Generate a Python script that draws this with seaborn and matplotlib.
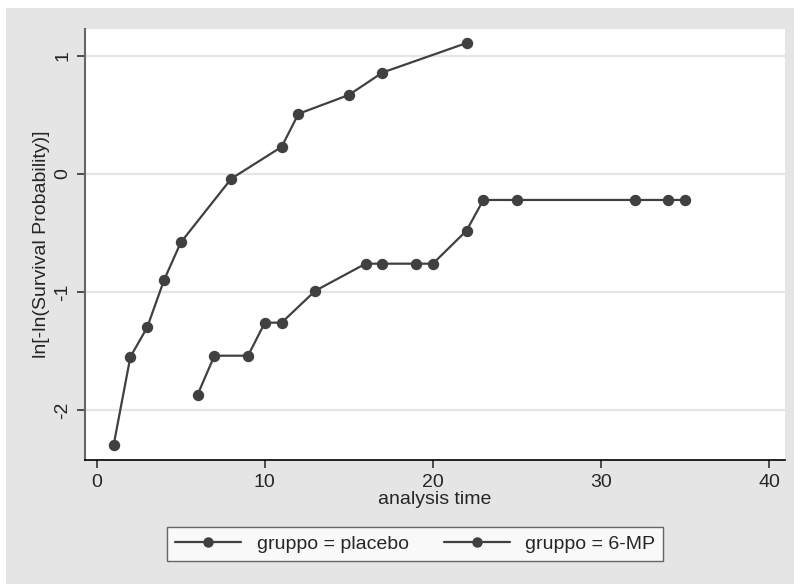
import pandas as pd
import matplotlib.pyplot as plt
import seaborn as sns
from matplotlib.patches import Rectangle
from matplotlib.lines import Line2D

# values
placebo_time = [1, 2, 3, 4, 5, 8, 11, 12, 15, 17, 22]
placebo_lnln = [-2.30, -1.55, -1.30, -0.90, -0.58, -0.04, 0.23, 0.51, 0.67, 0.86, 1.11]

mp_time = [6, 7, 9, 10, 11, 13, 16, 17, 19, 20, 22, 23, 25, 32, 34, 35]
mp_lnln = [-1.87, -1.54, -1.54, -1.26, -1.26, -0.99, -0.76, -0.76, -0.76, -0.76,
           -0.48, -0.22, -0.22, -0.22, -0.22, -0.22]

groups = ["gruppo = placebo", "gruppo = 6-MP"]
x_ticks = [0, 10, 20, 30, 40]
y_ticks = [-2, -1, 0, 1]

df = pd.concat([
    pd.DataFrame({"time": placebo_time, "val": placebo_lnln, "group": groups[0]}),
    pd.DataFrame({"time": mp_time, "val": mp_lnln, "group": groups[1]}),
])

sns.set_theme(style="white")
plt.rcParams["font.family"] = ["Liberation Sans", "DejaVu Sans"]

W, H = 794, 584
fig = plt.figure(figsize=(W / 100, H / 100), dpi=100)
fig.patch.set_facecolor("white")
fig.patches.append(Rectangle((6 / W, 0), 1, (H - 8) / H, transform=fig.transFigure,
                             facecolor="#e5e5e5", edgecolor="none", zorder=-10))

ax = fig.add_axes([85 / W, 124 / H, 700 / W, 431 / H])
ax.set_facecolor("white")

line_col = "#404040"
sns.lineplot(data=df, x="time", y="val", hue="group", palette=[line_col, line_col],
             marker="o", markersize=8.2, markeredgewidth=0, linewidth=1.6,
             estimator=None, sort=True, legend=False, ax=ax)

ax.set_xlim(-0.7, 40.95)
ax.set_ylim(-2.424, 1.229)
ax.set_xticks(x_ticks)
ax.set_yticks(y_ticks)
ax.set_yticklabels([str(t) for t in y_ticks], rotation=90, va="center")
ax.tick_params(axis="both", labelsize=14, length=6, width=1.2, color="#333333",
               bottom=True, left=True, pad=4)
ax.grid(axis="y", color="#e5e5e5", linewidth=1.6)
ax.grid(axis="x", visible=False)

for s in ["top", "right"]:
    ax.spines[s].set_visible(False)
ax.spines["left"].set_color("#666666")
ax.spines["left"].set_linewidth(1.5)
ax.spines["bottom"].set_color("black")
ax.spines["bottom"].set_linewidth(1.2)

ax.set_xlabel("analysis time", fontsize=14, labelpad=0)
ax.set_ylabel("ln[-ln(Survival Probability)]", fontsize=14, labelpad=3)

handles = [Line2D([], [], color=line_col, marker="o", markersize=7.5, markeredgewidth=0,
                  linewidth=1.6) for _ in groups]
leg = fig.legend(handles, groups, loc="center", bbox_to_anchor=(415 / W, 1 - 544 / H),
                 ncol=2, fontsize=14, frameon=True, fancybox=False,
                 handlelength=3.4, columnspacing=1.8, borderpad=0.4)
leg.get_frame().set_edgecolor("#444444")
leg.get_frame().set_linewidth(1.0)

fig.savefig("out.png", dpi=100)
